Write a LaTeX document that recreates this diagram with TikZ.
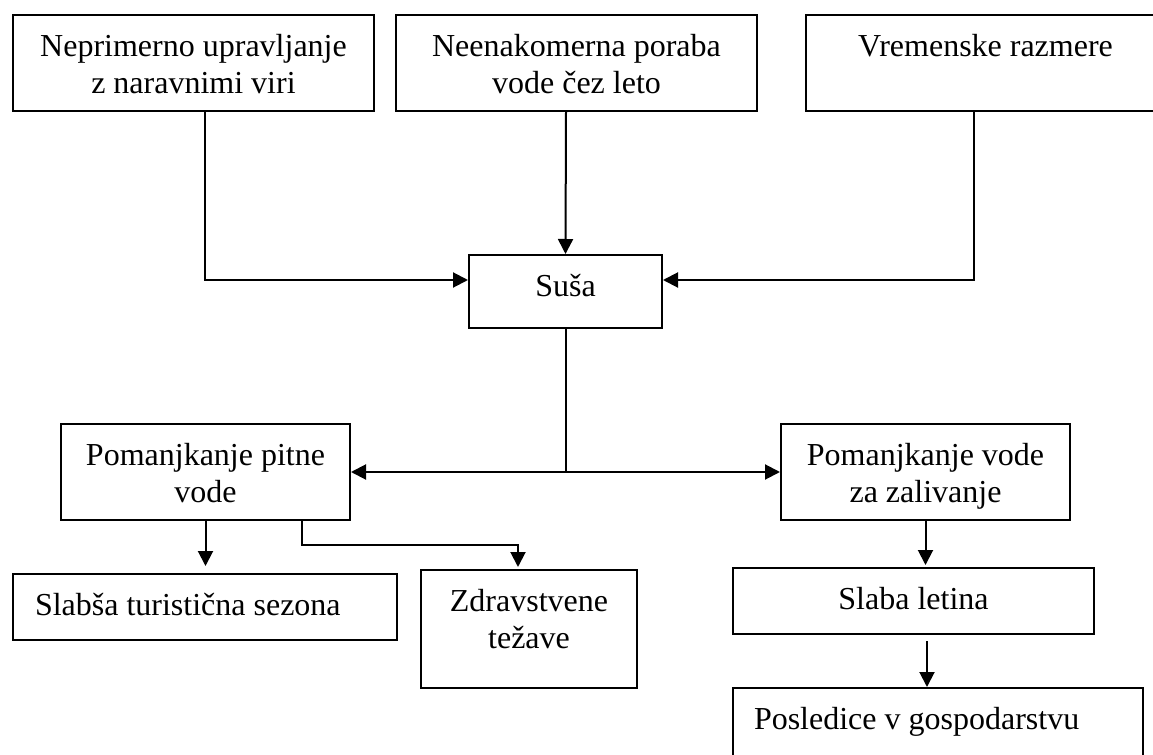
\documentclass[tikz,border=0pt]{standalone}
\usepackage{fontspec}
\setmainfont{Liberation Serif}
\usetikzlibrary{arrows.meta}
\tikzstyle{okvir}=[draw=black,line width=1pt,inner sep=0pt,anchor=north west,
                   font=\fontsize{16}{18.5}\selectfont]
\tikzstyle{puscica}=[line width=1pt,-{Triangle[length=7.5pt,width=7.5pt]}]
\newcommand{\besedilo}[4][\centering]{\parbox[t][#3][t]{#2}{#1\rule{0pt}{20.5pt}#4}}
\begin{document}
\begin{tikzpicture}[x=0.5pt,y=-0.5pt]
    \useasboundingbox (0,0) rectangle (1153,755);
    \clip (0,0) rectangle (1153,755);
    % vzroki
    \node (nep) at (12,14) [okvir]{\besedilo{180.5pt}{48pt}{Neprimerno upravljanje\\z naravnimi viri}};
    \node (por) at (395,14) [okvir]{\besedilo{180.5pt}{48pt}{Neenakomerna poraba\\vode čez leto}};
    \node (vre) at (805,14) [okvir]{\besedilo{179.5pt}{48pt}{Vremenske razmere}};
    \node (susa) at (468,254) [okvir]{\besedilo{96.5pt}{36.5pt}{Suša}};
    % posledice
    \node (pit) at (60,423) [okvir]{\besedilo{144.5pt}{48pt}{Pomanjkanje pitne\\vode}};
    \node (zal) at (780,423) [okvir]{\besedilo{144.5pt}{48pt}{Pomanjkanje vode\\za zalivanje}};
    \node (tur) at (12,573) [okvir]{\besedilo[\raggedright\hspace*{11pt}]{192pt}{33pt}{Slabša turistična sezona}};
    \node (zdr) at (420,569) [okvir]{\besedilo{108pt}{59pt}{Zdravstvene\\težave}};
    \node (let) at (732,567) [okvir]{\besedilo{180.5pt}{33pt}{Slaba letina}};
    \node (gos) at (732,687) [okvir]{\besedilo[\raggedright\hspace*{10.5pt}]{205pt}{40pt}{Posledice v gospodarstvu}};
    % povezave
    \draw[puscica] ([xshift=5.75pt]nep.south) |- ([yshift=5.75pt]susa.west);
    \draw[puscica] ([xshift=-5.25pt]por.south) -- (susa.north);
    \draw[puscica] ([xshift=-5.75pt]vre.south) |- ([yshift=5.75pt]susa.east);
    \draw[line width=1pt] (susa.south) -- (susa.south |- pit.east) coordinate (raz);
    \draw[puscica] (raz) -- (pit.east);
    \draw[puscica] (raz) -- (zal.west);
    \draw[puscica,shorten >=3.5pt] (pit.south) -- (pit.south |- tur.north);
    \draw[puscica,shorten >=1pt] ([xshift=48.25pt]pit.south) -- ++(0,24) -| ([xshift=-5.5pt]zdr.north);
    \draw[puscica,shorten >=1pt] (zal.south) -- (zal.south |- let.north);
    \coordinate (l1) at ([xshift=6.75pt]let.south);
    \draw[puscica,shorten <=3pt] (l1) -- (l1 |- gos.north);
\end{tikzpicture}
\end{document}
